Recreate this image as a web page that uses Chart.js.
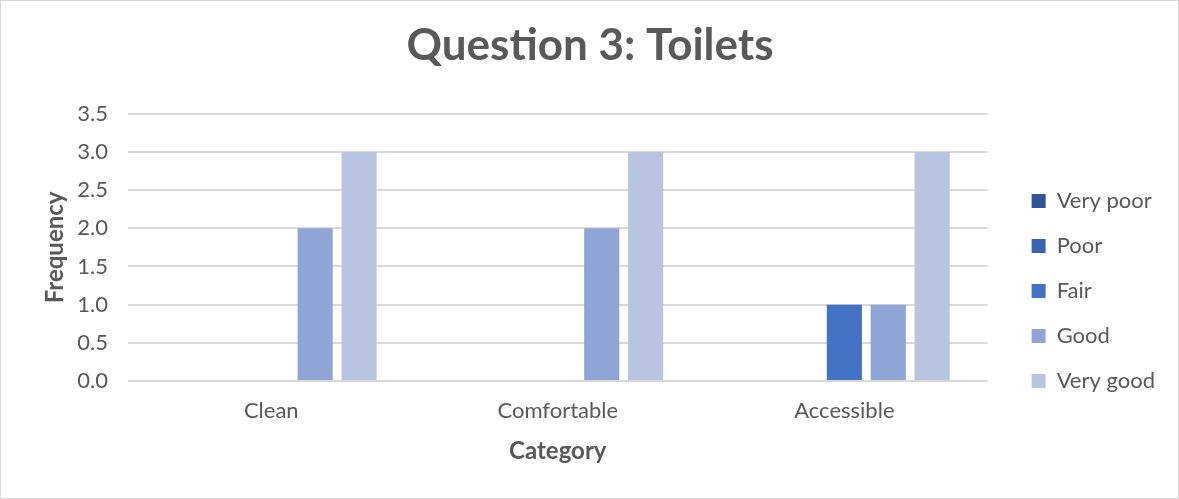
<!DOCTYPE html>
<html><head><meta charset="utf-8">
<script src="https://cdn.jsdelivr.net/npm/chart.js@4/dist/chart.umd.min.js"></script>
<style>
html,body{margin:0;padding:0;background:#fff;}
#wrap{position:absolute;left:0;top:0;width:1179px;height:499px;box-sizing:border-box;border:1px solid #d9d9d9;}
canvas{display:block;}
</style></head>
<body>
<div id="wrap"><canvas id="c" width="1177" height="497"></canvas></div>
<script>
const categories = ["Clean", "Comfortable", "Accessible"];
const seriesNames = ["Very poor", "Poor", "Fair", "Good", "Very good"];
const veryPoor = [0, 0, 0];
const poor = [0, 0, 0];
const fair = [0, 0, 1];
const good = [2, 2, 1];
const veryGood = [3, 3, 3];
const yTicks = [0, 0.5, 1, 1.5, 2, 2.5, 3, 3.5];
const colors = ["#2F5597", "#3A64AF", "#4472C4", "#8FA5D5", "#B9C4E3"];

const FONT = "Lato, 'Open Sans', sans-serif";
const values = [veryPoor, poor, fair, good, veryGood];
Chart.defaults.font.family = FONT;
Chart.defaults.color = "#595959";

new Chart(document.getElementById("c"), {
  type: "bar",
  data: {
    labels: categories,
    datasets: seriesNames.map((n, i) => ({
      label: n,
      data: values[i],
      backgroundColor: colors[i],
      borderWidth: 0,
      barPercentage: 0.8,
      categoryPercentage: 0.766
    }))
  },
  options: {
    responsive: false,
    animation: false,
    devicePixelRatio: 1,
    layout: { padding: { left: 14, right: 13, top: 18, bottom: 32 } },
    plugins: {
      title: {
        display: true,
        text: "Question 3: Toilets",
        font: { size: 44, weight: "bold", family: FONT },
        color: "#595959",
        padding: { top: 0, bottom: 42 }
      },
      legend: {
        position: "right",
        align: "center",
        title: { display: true, text: " ", font: { size: 10 }, padding: { top: 85, bottom: 0 } },
        labels: {
          boxWidth: 14, boxHeight: 14,
          font: { size: 22, family: FONT },
          color: "#595959",
          padding: 23
        }
      },
      tooltip: { enabled: false }
    },
    scales: {
      x: {
        grid: { display: false, drawTicks: false },
        border: { display: false },
        ticks: { font: { size: 22 }, color: "#595959", padding: 17 },
        title: { display: true, text: "Category", font: { size: 24, weight: "bold" }, color: "#595959", padding: { top: 0, bottom: 0 } },
        afterFit: (s) => { s.height = 85; }
      },
      y: {
        min: 0, max: 3.5,
        afterBuildTicks: (ax) => { ax.ticks = yTicks.map(v => ({ value: v })); },
        grid: { color: "#d9d9d9", lineWidth: 2, drawTicks: false },
        border: { display: false },
        ticks: { font: { size: 22 }, color: "#595959", padding: 20, callback: v => Number(v).toFixed(1) },
        title: { display: true, text: "Frequency", font: { size: 24, weight: "bold" }, color: "#595959", padding: { top: 26, bottom: 0 } },
        afterFit: (s) => { s.width = 113; }
      },
      spacer: {
        type: "linear",
        position: "right",
        display: true,
        grid: { display: false, drawTicks: false },
        border: { display: false },
        ticks: { display: false },
        afterFit: (s) => { s.width = 21; }
      }
    }
  }
});
</script>
</body></html>
